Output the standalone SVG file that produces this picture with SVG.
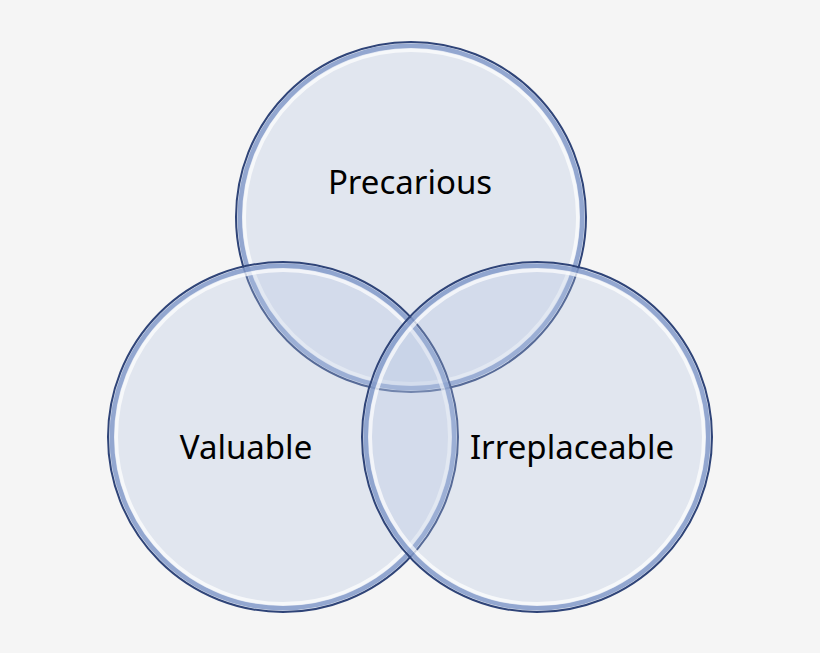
<svg xmlns="http://www.w3.org/2000/svg" width="820" height="653" viewBox="0 0 820 653">
<style>
.c{fill:#b4c3e0;fill-opacity:0.3;stroke:#2f4478;stroke-width:2}
.r{fill:none;stroke:#ffffff;stroke-opacity:0.7;stroke-width:4}
.r2{fill:none;stroke:#7f97c8;stroke-width:5;stroke-opacity:0.8}
.t{font-family:"Noto Sans","Open Sans",sans-serif;font-size:33px;fill:#000;text-anchor:middle}
</style>
<rect width="820" height="653" fill="#f5f5f5"/>
<g id="precarious">
<circle class="c" cx="411" cy="217" r="175"/>
<circle class="r2" cx="411" cy="217" r="171"/>
<circle class="r" cx="411" cy="217" r="167"/>
<text class="t" x="410" y="194">Precarious</text>
</g>
<g id="valuable">
<circle class="c" cx="283" cy="437" r="175"/>
<circle class="r2" cx="283" cy="437" r="171"/>
<circle class="r" cx="283" cy="437" r="167"/>
<text class="t" x="246" y="459">Valuable</text>
</g>
<g id="irreplaceable">
<circle class="c" cx="537" cy="437" r="175"/>
<circle class="r2" cx="537" cy="437" r="171"/>
<circle class="r" cx="537" cy="437" r="167"/>
<text class="t" x="572" y="459">Irreplaceable</text>
</g>
<g id="connectors"/>
</svg>
